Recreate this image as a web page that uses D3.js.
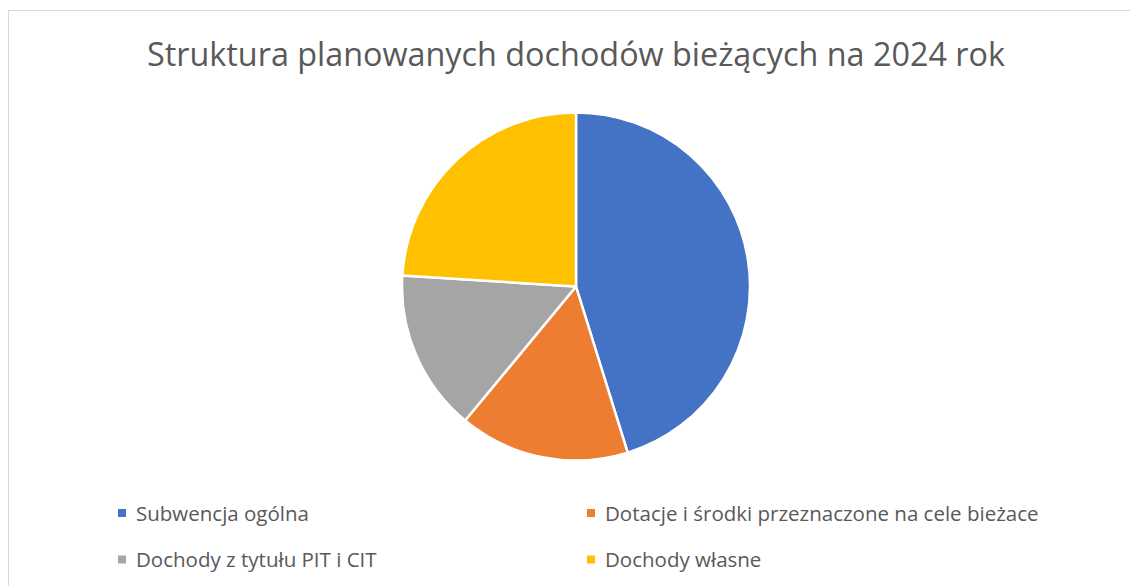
<!DOCTYPE html>
<html>
<head>
<meta charset="utf-8">
<script src="https://cdn.jsdelivr.net/npm/d3@7"></script>
<style>
  body { margin: 0; background: #fff; }
  text { font-family: "Open Sans", sans-serif; fill: #595959; }
</style>
</head>
<body>
<script>
'use strict';

const title = 'Struktura planowanych dochodów bieżących na 2024 rok';
const categories = [
	'Subwencja ogólna',
	'Dotacje i środki przeznaczone na cele bieżace',
	'Dochody z tytułu PIT i CIT',
	'Dochody własne'
];
const values = [45.2, 15.8, 15.0, 24.0];
const colors = ['#4472C4', '#ED7D31', '#A5A5A5', '#FFC000'];

let width = 1130;
let height = 586;

let svg = d3.select('body').append('svg')
	.attr('width', width)
	.attr('height', height);

// chart frame (runs off the right/bottom of the picture)
svg.append('rect')
	.attr('x', 8.5).attr('y', 10.5)
	.attr('width', 1140).attr('height', 600)
	.attr('fill', 'none')
	.attr('stroke', '#d9d9d9')
	.attr('stroke-width', 1);

svg.append('text')
	.attr('x', 576)
	.attr('y', 66)
	.attr('text-anchor', 'middle')
	.attr('textLength', 858)
	.attr('lengthAdjust', 'spacingAndGlyphs')
	.style('font-size', '33px')
	.text(title);

let color = d3.scaleOrdinal().domain(categories).range(colors);

let pie = d3.pie().sort(null).value(d => d.value);
let arc = d3.arc().innerRadius(0).outerRadius(174);

let data = categories.map((c, i) => ({name: c, value: values[i]}));

svg.append('g')
	.attr('transform', 'translate(576,286.5)')
	.selectAll('path')
	.data(pie(data))
	.join('path')
	.attr('d', arc)
	.attr('fill', d => color(d.data.name))
	.attr('stroke', '#fff')
	.attr('stroke-width', 2.5)
	.attr('stroke-linejoin', 'round');

// legend, two columns
let colX = d3.scaleOrdinal().domain([0, 1]).range([118, 587]);
let rowY = d3.scaleOrdinal().domain([0, 1]).range([509, 555.5]);

let legend = svg.append('g')
	.selectAll('g')
	.data(data)
	.join('g')
	.attr('transform', (d, i) => `translate(${colX(i % 2)},${rowY(Math.floor(i / 2))})`);

legend.append('rect')
	.attr('width', 8).attr('height', 8)
	.attr('fill', d => color(d.name));

legend.append('text')
	.attr('x', 18)
	.attr('y', 11.5)
	.style('font-size', '20.5px')
	.text(d => d.name);
</script>
</body>
</html>
